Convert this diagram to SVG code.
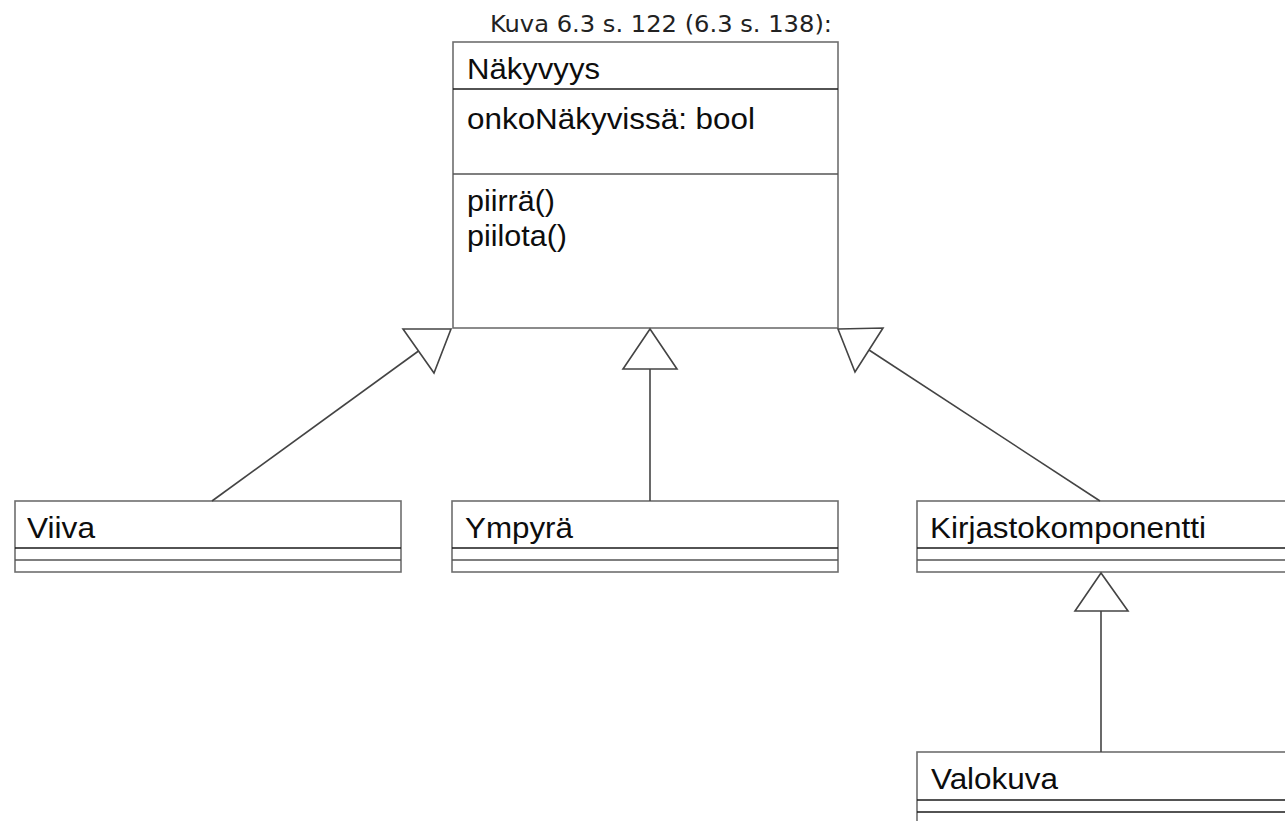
<svg xmlns="http://www.w3.org/2000/svg" width="1285" height="821" viewBox="0 0 1285 821">
<style>
.box{fill:#fff;stroke:#6e6e6e;stroke-width:1.6}
.sep{stroke:#1a1a1a;stroke-width:1.6}
.sep2{stroke:#555;stroke-width:1.6}
.t{font-family:"Liberation Sans",Arial,sans-serif;font-size:29px;fill:#0d0d0d}
.cap{font-family:"DejaVu Sans Condensed","DejaVu Sans",sans-serif;font-size:23px;fill:#222}
.conn line{stroke:#444;stroke-width:1.6}
.conn polygon{fill:#fff;stroke:#444;stroke-width:1.6;stroke-linejoin:miter}
</style>
<rect width="1285" height="821" fill="#fff"/>
<text class="cap" x="490" y="32" textLength="342" lengthAdjust="spacingAndGlyphs">Kuva 6.3 s. 122 (6.3 s. 138):</text>

<g id="nakyvyys">
<rect class="box" x="453" y="42" width="385" height="286"/>
<line class="sep" x1="453" y1="89" x2="838" y2="89"/>
<line class="sep2" x1="453" y1="174" x2="838" y2="174"/>
<text class="t" x="467" y="79" textLength="133" lengthAdjust="spacingAndGlyphs">Näkyvyys</text>
<text class="t" x="467" y="129" textLength="288" lengthAdjust="spacingAndGlyphs">onkoNäkyvissä: bool</text>
<text class="t" x="467" y="211" textLength="88" lengthAdjust="spacingAndGlyphs">piirrä()</text>
<text class="t" x="467" y="246" textLength="100" lengthAdjust="spacingAndGlyphs">piilota()</text>
</g>

<g id="viiva">
<rect class="box" x="15" y="501" width="386" height="71"/>
<line class="sep" x1="15" y1="548" x2="401" y2="548"/>
<line class="sep2" x1="15" y1="560" x2="401" y2="560"/>
<text class="t" x="27" y="538" textLength="68" lengthAdjust="spacingAndGlyphs">Viiva</text>
</g>

<g id="ympyra">
<rect class="box" x="452" y="501" width="386" height="71"/>
<line class="sep" x1="452" y1="548" x2="838" y2="548"/>
<line class="sep2" x1="452" y1="560" x2="838" y2="560"/>
<text class="t" x="465" y="538" textLength="108" lengthAdjust="spacingAndGlyphs">Ympyrä</text>
</g>

<g id="kirjastokomponentti">
<rect class="box" x="917" y="501" width="400" height="71"/>
<line class="sep" x1="917" y1="548" x2="1290" y2="548"/>
<line class="sep2" x1="917" y1="560" x2="1290" y2="560"/>
<text class="t" x="930" y="538" textLength="276" lengthAdjust="spacingAndGlyphs">Kirjastokomponentti</text>
</g>

<g id="valokuva">
<rect class="box" x="917" y="752" width="400" height="100"/>
<line class="sep" x1="917" y1="800" x2="1290" y2="800"/>
<line class="sep" x1="917" y1="812" x2="1290" y2="812"/>
<text class="t" x="931" y="789" textLength="127" lengthAdjust="spacingAndGlyphs">Valokuva</text>
</g>

<g id="connectors" class="conn">
<line x1="212" y1="501" x2="418.5" y2="351"/>
<polygon points="451,329 403,329 434,373"/>
<line x1="650" y1="369" x2="650" y2="501"/>
<polygon points="650,329 623,369 677,369"/>
<line x1="869" y1="350" x2="1100" y2="501"/>
<polygon points="838,329 883,328 855,372"/>
<line x1="1101" y1="611" x2="1101" y2="752"/>
<polygon points="1101,573 1075,611 1128,611"/>
</g>
</svg>
